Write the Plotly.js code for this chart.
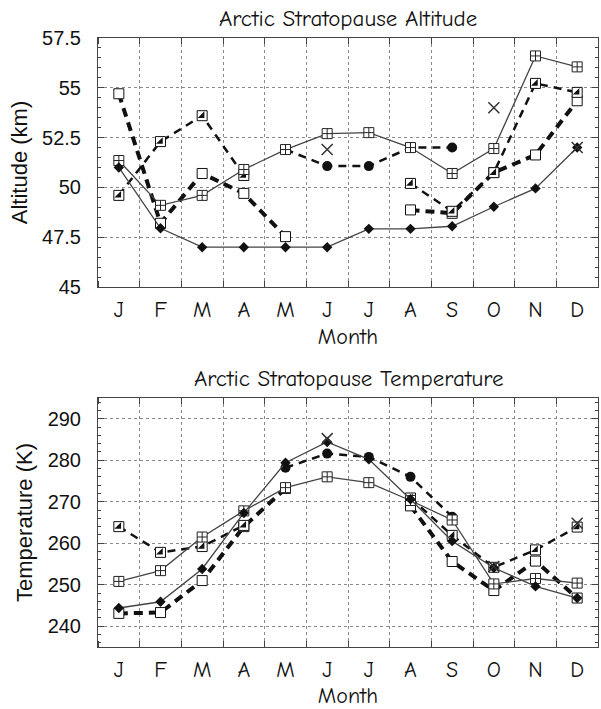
<!DOCTYPE html>
<html>
<head>
<meta charset="utf-8">
<script src="https://cdn.plot.ly/plotly-3.0.1.min.js"></script>
<style>html,body{margin:0;padding:0;background:#fff;}#chart{width:601px;height:709px;}</style>
</head>
<body>
<div id="chart"></div>
<script>
// ---- data ----
const months = ['J','F','M','A','M','J','J','A','S','O','N','D'];
const monthPos = [1,2,3,4,5,6,7,8,9,10,11,12];

// Altitude (km)
const altCrossSq = [51.35, 49.1, 49.6, 50.9, 51.9, 52.7, 52.75, 52.0, 50.7, 51.95, 56.6, 56.05];
const altDiamond = [51.0, 47.95, 47.0, 47.0, 47.0, 47.0, 47.92, 47.92, 48.05, 49.03, 49.95, 52.0];
const altOpenSq  = [54.7, 48.2, 50.7, 49.7, 47.53, null, null, 48.87, 48.7, 50.75, 51.63, 54.35];
const altHalfSq  = [49.6, 52.3, 53.6, 50.6, null, null, null, 50.2, 48.8, 50.74, 55.22, 54.77];
const altCircle  = [null, null, null, null, 51.9, 51.07, 51.07, 52.0, 52.0, null, null, null];
const altX       = [null, null, null, null, null, 51.9, null, null, null, 54.0, null, 52.0];

// Temperature (K)
const tmpCrossSq = [250.8, 253.4, 261.5, 267.8, 273.4, 276.0, 274.6, 270.3, 265.6, 250.2, 251.5, 250.4];
const tmpDiamond = [244.4, 245.9, 253.8, 267.3, 279.4, 284.4, 280.2, 270.6, 260.5, 254.1, 249.6, 246.8];
const tmpOpenSq  = [243.1, 243.3, 251.0, 264.0, 273.2, null, null, 269.0, 255.6, 248.6, 255.7, 246.8];
const tmpHalfSq  = [264.0, 257.8, 259.2, 264.3, null, null, null, 270.9, 261.9, 254.2, 258.4, 263.9];
const tmpCircle  = [null, null, null, null, 278.2, 281.6, 280.8, 276.0, 266.4, null, null, null];
const tmpX       = [null, null, null, null, null, 285.2, null, null, null, 254.4, null, 264.8];

const altTicks = [45, 47.5, 50, 52.5, 55, 57.5];
const tmpTicks = [240, 250, 260, 270, 280, 290];

// ---- styles ----
const COMIC = 'Comic Sans MS, Comic Neue, Lato, sans-serif';
const SANS = 'Liberation Sans, Arial, sans-serif';

function buildTraces(set, xa, ya) {
  const t = [];
  // thick dashed, open squares
  t.push({x: monthPos, y: set.openSq, xaxis: xa, yaxis: ya, mode: 'lines+markers',
    line: {color: '#111', width: 4, dash: '9px,6px'},
    marker: {symbol: 'square', size: 10, color: 'white', line: {color: '#111', width: 1}}});
  // medium dashed, half-filled squares
  t.push({x: monthPos, y: set.halfSq, xaxis: xa, yaxis: ya, mode: 'lines+markers',
    line: {color: '#111', width: 2.5, dash: '8px,6px'},
    marker: {symbol: 'square', size: 10, color: 'white', line: {color: '#111', width: 1}}});
  t.push({x: monthPos, y: set.halfSq, xaxis: xa, yaxis: ya, mode: 'markers',
    marker: {symbol: 'triangle-se', size: 7.4, color: '#111', line: {width: 0}}});
  // medium dashed, filled circles
  t.push({x: monthPos, y: set.circle, xaxis: xa, yaxis: ya, mode: 'lines+markers',
    line: {color: '#111', width: 2.5, dash: '8px,6px'},
    marker: {symbol: 'circle', size: 10, color: '#111'}});
  // solid, crossed squares
  t.push({x: monthPos, y: set.crossSq, xaxis: xa, yaxis: ya, mode: 'lines+markers',
    line: {color: '#444', width: 1.3},
    marker: {symbol: 'square-cross', size: 10, color: 'white', line: {color: '#222', width: 1}}});
  // solid, diamonds
  t.push({x: monthPos, y: set.diamond, xaxis: xa, yaxis: ya, mode: 'lines+markers',
    line: {color: '#444', width: 1.3},
    marker: {symbol: 'diamond', size: 8, color: '#111'}});
  // x markers
  t.push({x: monthPos, y: set.xs, xaxis: xa, yaxis: ya, mode: 'markers',
    marker: {symbol: 'x-thin', size: 11, color: '#333', line: {color: '#333', width: 1.5}}});
  return t;
}

const data = [].concat(
  buildTraces({openSq: altOpenSq, halfSq: altHalfSq, circle: altCircle, crossSq: altCrossSq, diamond: altDiamond, xs: altX}, 'x', 'y'),
  buildTraces({openSq: tmpOpenSq, halfSq: tmpHalfSq, circle: tmpCircle, crossSq: tmpCrossSq, diamond: tmpDiamond, xs: tmpX}, 'x2', 'y2')
);

const gridCol = '#8a8a8a';
function xAxis(anchor) {
  return {
    anchor: anchor, domain: [0, 1], range: [0.5, 12.5],
    tickmode: 'array', tickvals: monthPos, ticktext: months, ticks: '',
    showgrid: false, zeroline: false, showline: true, linecolor: '#444', linewidth: 1, mirror: 'ticks',
    tickfont: {family: COMIC, size: 22, color: '#111'}, ticklabelstandoff: 3,
    minor: {tick0: 0.5, dtick: 1, ticks: 'inside', ticklen: 6, tickcolor: '#444', tickwidth: 1,
            showgrid: true, gridcolor: gridCol, griddash: 'dot', gridwidth: 1},
    title: {text: 'Month', font: {family: COMIC, size: 22, color: '#111'}, standoff: 6}
  };
}
function yAxis(anchor, domain, range, ticks, minorD, title) {
  return {
    anchor: anchor, domain: domain, range: range,
    tickmode: 'array', tickvals: ticks, ticks: 'inside', ticklen: 6, tickcolor: '#444',
    showgrid: true, gridcolor: gridCol, griddash: 'dot', gridwidth: 1,
    zeroline: false, showline: true, linecolor: '#444', linewidth: 1, mirror: 'ticks',
    tickfont: {family: SANS, size: 20, color: '#111'}, ticklabelstandoff: 12,
    minor: {dtick: minorD, ticks: 'inside', ticklen: 3, tickcolor: '#444', showgrid: false},
    title: {text: title, font: {family: SANS, size: 22, color: '#111'}, standoff: 8}
  };
}

const layout = {
  width: 601, height: 709,
  margin: {l: 98, r: 3, t: 38, b: 62},
  paper_bgcolor: 'white', plot_bgcolor: 'white',
  showlegend: false,
  xaxis: xAxis('y'),
  yaxis: yAxis('x', [0.5911, 1], [45, 57.5], altTicks, 0.5, 'Altitude (km)'),
  xaxis2: xAxis('y2'),
  yaxis2: yAxis('x2', [0, 0.4089], [235, 295], tmpTicks, 2, 'Temperature (K)'),
  annotations: [
    {text: 'Arctic Stratopause Altitude', xref: 'paper', yref: 'paper', x: 0.5, y: 1.0328,
     xanchor: 'center', yanchor: 'middle', showarrow: false, font: {family: COMIC, size: 23, color: '#111'}},
    {text: 'Arctic Stratopause Temperature', xref: 'paper', yref: 'paper', x: 0.5, y: 0.4417,
     xanchor: 'center', yanchor: 'middle', showarrow: false, font: {family: COMIC, size: 23, color: '#111'}}
  ]
};

Plotly.newPlot('chart', data, layout, {staticPlot: true, displayModeBar: false});
</script>
</body>
</html>
